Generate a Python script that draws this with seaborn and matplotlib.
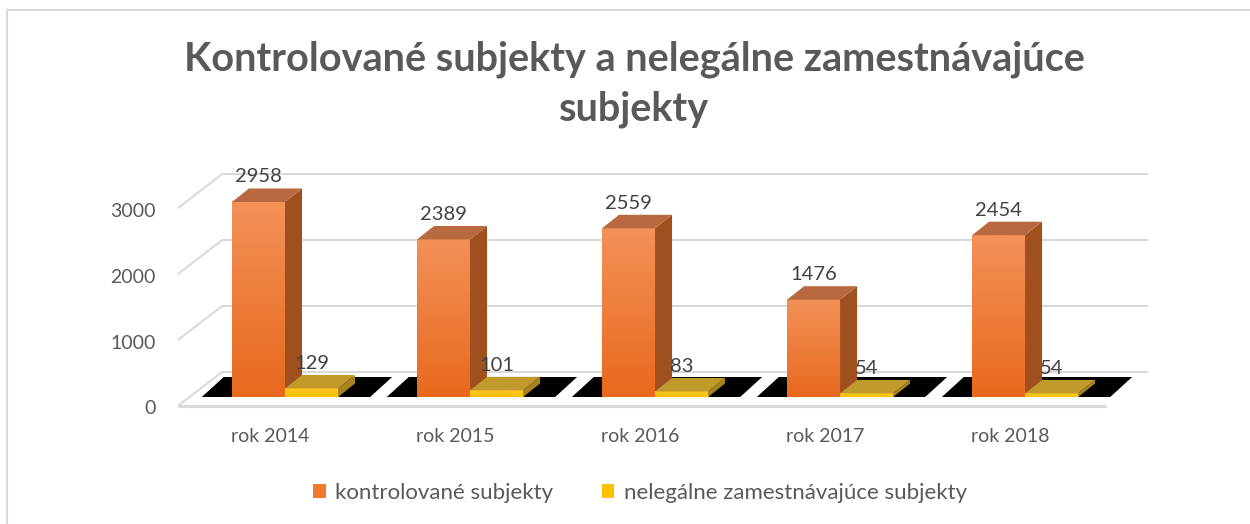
import numpy as np
import pandas as pd
import matplotlib
matplotlib.use("Agg")
import matplotlib.pyplot as plt
import matplotlib.transforms as mtransforms
from matplotlib.patches import Polygon, Rectangle
from matplotlib.colors import LinearSegmentedColormap
import seaborn as sns

# data
roky = ["rok 2014", "rok 2015", "rok 2016", "rok 2017", "rok 2018"]
kontrolovane = [2958, 2389, 2559, 1476, 2454]
nelegalne = [129, 101, 83, 54, 54]
serie = ["kontrolované subjekty", "nelegálne zamestnávajúce subjekty"]
y_ticks = [0, 1000, 2000, 3000]

df = pd.DataFrame({
    "rok": roky * 2,
    "seria": [serie[0]] * len(roky) + [serie[1]] * len(roky),
    "pocet": kontrolovane + nelegalne,
})

sns.set_theme(style="white")
plt.rcParams["font.family"] = ["Lato", "DejaVu Sans"]

DPI = 100
W, H = 1250, 524
fig = plt.figure(figsize=(W / DPI, H / DPI), dpi=DPI)
# axes = front plane of the bars
ax = fig.add_axes([189 / W, 1 - 397 / H, 926 / W, (397 - 199.2) / H])

orange = "#F07A2E"
yellow = "#FFC000"
sns.barplot(data=df, x="rok", y="pocet", hue="seria", palette=[orange, yellow],
            width=0.573, gap=0, saturation=1, linewidth=0, ax=ax)

xmin, xmax = -0.519, 4.486
ax.set_xlim(xmin, xmax)
ax.set_ylim(0, 3000)
ppx = 926 / (xmax - xmin)          # pixels per category unit
ppy = (397 - 199.2) / 3000         # pixels per value unit


def d(dx_px, dy_px):
    # pixel offset (right, up) -> data offset
    return dx_px / ppx, dy_px / ppy


grid_c = "#D9D9D9"
fx, fy = d(-10.5, -8.5)   # front edge of the floor
bx, by = d(33, 25)        # back wall

# back wall gridlines and left wall lines
for v in y_ticks:
    ax.plot([xmin + bx, xmax + bx], [v + by, v + by], color=grid_c, lw=1.5,
            zorder=1, clip_on=False, solid_capstyle="butt")
    ax.plot([xmin + fx, xmin + bx], [v + fy, v + by], color=grid_c, lw=1.5,
            zorder=1, clip_on=False)
ax.plot([xmin + fx, xmax + fx], [fy, fy], color=grid_c, lw=2.2, zorder=1, clip_on=False)

# black floor under each category
kx, ky = d(22, 20)
for i in range(len(roky)):
    ax.add_patch(Polygon([(i - 0.45, 0), (i + 0.46, 0), (i + 0.46 + kx, ky), (i - 0.45 + kx, ky)],
                         closed=True, facecolor="black", edgecolor="none", zorder=2, clip_on=False))

# 3D faces on the seaborn bars
front_cmaps = [LinearSegmentedColormap.from_list("o", ["#E8691E", "#F39158"]),
               LinearSegmentedColormap.from_list("y", ["#FFC000", "#FFC72A"])]
side_c = ["#A0501F", "#A8831E"]
top_c = ["#B8693F", "#C09A2B"]
ox, oy = d(17, 13.5)
for s, cont in enumerate(ax.containers):
    z = 3 + s
    for p in cont:
        x0, w, h = p.get_x(), p.get_width(), p.get_height()
        x1 = x0 + w
        p.set_zorder(z)
        ax.imshow(np.linspace(0, 1, 64).reshape(-1, 1), cmap=front_cmaps[s], origin="lower",
                  extent=(x0, x1, 0, h), aspect="auto", zorder=z + 0.1, interpolation="bilinear")
        ax.add_patch(Polygon([(x1, 0), (x1, h), (x1 + ox, h + oy), (x1 + ox, oy)], closed=True,
                             facecolor=side_c[s], edgecolor="none", zorder=z + 0.2, clip_on=False))
        ax.add_patch(Polygon([(x0, h), (x1, h), (x1 + ox, h + oy), (x0 + ox, h + oy)], closed=True,
                             facecolor=top_c[s], edgecolor="none", zorder=z + 0.2, clip_on=False))

ax.set_xlim(xmin, xmax)
ax.set_ylim(0, 3000)

for c in ax.containers:
    ax.bar_label(c, padding=12, fontsize=14.5, color="#404040", zorder=7)

sns.despine(ax=ax, left=True, bottom=True)
ax.set_xlabel("")
ax.set_ylabel("")
ax.set_yticks(y_ticks)
ax.tick_params(axis="y", length=0, pad=16.5, labelsize=14, labelcolor="#595959")
ax.tick_params(axis="x", length=0, pad=22, labelsize=14, labelcolor="#595959")
ax.grid(False)

y_off = mtransforms.ScaledTranslation(-10.5 / DPI, -10.5 / DPI, fig.dpi_scale_trans)
for t in ax.yaxis.get_major_ticks():
    t.label1.set_transform(t.label1.get_transform() + y_off)
x_off = mtransforms.ScaledTranslation(-15 / DPI, 0, fig.dpi_scale_trans)
for t in ax.xaxis.get_major_ticks():
    t.label1.set_transform(t.label1.get_transform() + x_off)

sns.move_legend(ax, "center", bbox_to_anchor=(0.512, 1 - 493 / H), bbox_transform=fig.transFigure,
                ncol=2, title=None, frameon=False, fontsize=16, labelcolor="#595959",
                handlelength=0.55, handleheight=0.55, handletextpad=0.42, columnspacing=2.2)

title_kw = dict(ha="center", va="baseline", fontsize=28.5, fontweight="bold", color="#595959")
fig.text(634 / W, 1 - 71 / H, "Kontrolované subjekty a nelegálne zamestnávajúce", **title_kw)
fig.text(634 / W, 1 - 121 / H, "subjekty", **title_kw)

# chart border
fig.add_artist(Rectangle((7 / W, -0.1), 1.2, 1 - 10 / H + 0.1, transform=fig.transFigure,
                         fill=False, edgecolor=grid_c, lw=1.5))

fig.savefig("out.png", dpi=DPI)
